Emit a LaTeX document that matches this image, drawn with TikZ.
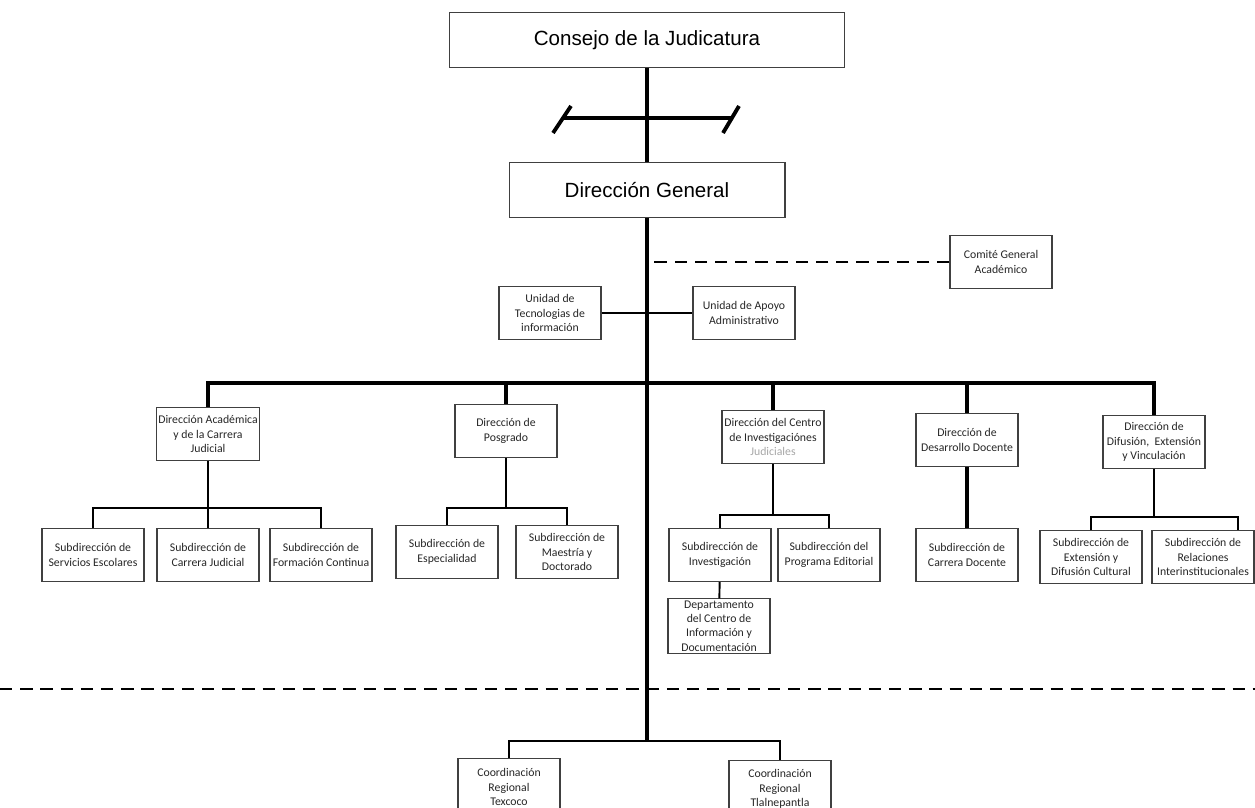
\documentclass[tikz,border=0pt]{standalone}
\usepackage{fontspec}
\setmainfont{Carlito}
\newfontfamily\headfont{Liberation Sans}

\tikzset{
  topbox/.style={draw=black!75, line width=0.6pt, font=\headfont\fontsize{11.7}{14}\selectfont, minimum height=1.1cm},
  unit/.style={draw=black!75, line width=0.6pt, align=center, text=black!85, font=\fontsize{6.7}{8.2}\selectfont, minimum width=2.04cm, minimum height=1.06cm, inner sep=1pt},
  mainline/.style={line width=1.8pt},
  busline/.style={line width=2.1pt},
  subline/.style={line width=1.1pt},
  thinline/.style={line width=0.9pt},
  dashline/.style={line width=1.4pt, dash pattern=on 7pt off 4.5pt}
}

\begin{document}
\begin{tikzpicture}[x=0.02cm, y=-0.02cm]
    \useasboundingbox (0,0) rectangle (1255,808);
    \clip (0,0) rectangle (1255,808);
    \pgfmathsetmacro{\busy}{383}
    \pgfmathsetmacro{\lvlthree}{555}
    % top of the chart
    \node[topbox, minimum width=7.9cm] (consejo) at (647,40) {Consejo de la Judicatura};
    \node[topbox, minimum width=5.52cm] (dirgen) at (647,190) {Dirección General};
    \node[unit] (comite) at (1001,262) {Comité General\\Académico};
    \node[unit] (tecnol) at (550,313) {Unidad de\\Tecnologias de\\información};
    \node[unit] (apoyo) at (744,313) {Unidad de Apoyo\\Administrativo};
    % direcciones
    \node[unit] (dacad) at (208,434) {Dirección Académica\\y de la Carrera\\Judicial};
    \node[unit] (dposg) at (506,431) {Dirección de\\Posgrado};
    \node[unit] (dcentro) at (773,437) {Dirección del Centro\\de Investigaciónes\\{\color{black!35}Judiciales}};
    \node[unit] (ddocente) at (967,440) {Dirección de\\Desarrollo Docente};
    \node[unit] (ddifus) at (1154,442) {Dirección de\\Difusión, \ Extensión\\y Vinculación};
    % subdirecciones
    \node[unit] (sserv) at (93,\lvlthree) {Subdirección de\\Servicios Escolares};
    \node[unit] (scarr) at (208,\lvlthree) {Subdirección de\\Carrera Judicial};
    \node[unit] (sform) at (321,\lvlthree) {Subdirección de\\Formación Continua};
    \node[unit] (sespec) at (447,552) {Subdirección de\\Especialidad};
    \node[unit] (smaest) at (567,552) {Subdirección de\\Maestría y\\Doctorado};
    \node[unit] (sinvest) at (720,\lvlthree) {Subdirección de\\Investigación};
    \node[unit] (seditor) at (829,\lvlthree) {Subdirección del\\Programa Editorial};
    \node[unit] (sdocente) at (967,\lvlthree) {Subdirección de\\Carrera Docente};
    \node[unit] (sexten) at (1091,557) {Subdirección de\\Extensión y\\Difusión Cultural};
    \node[unit] (srelac) at (1203,557) {Subdirección de\\Relaciones\\Interinstitucionales};
    \node[unit] (depto) at (719,626) {Departamento\\del Centro de\\Información y\\Documentación};
    % coordinaciones
    \node[unit, minimum height=1.14cm] (ctex) at (509,787) {Coordinación\\Regional\\Texcoco};
    \node[unit, minimum height=1.14cm] (ctlal) at (780,789) {Coordinación\\Regional\\Tlalnepantla};
    % junctions
    \coordinate (bus) at (647,\busy);
    \coordinate (regbar) at (647,741);
    \coordinate (acbar) at (208,508);
    \coordinate (pobar) at (506,508);
    \coordinate (cebar) at (773,515);
    \coordinate (dibar) at (1154,517);
    \coordinate (westedge) at (0,689);
    \coordinate (eastedge) at (1255,689);
    % main trunk and cut mark
    \draw[mainline] (consejo) -- (dirgen);
    \draw[mainline] (dirgen) -- (regbar);
    \draw[mainline] (563,118) -- (731,118);
    \draw[line width=2.2pt] (553,133) -- (571,106);
    \draw[line width=2.2pt] (723,133) -- (739,106);
    \draw[dashline] (comite.west) -- (comite.west -| dirgen.south);
    \draw[thinline] (tecnol) -- (apoyo);
    % bus to direcciones
    \draw[busline] (dacad.north) |- (bus) -| (ddifus.north);
    \foreach \n in {dposg,dcentro,ddocente}
        \draw[busline] (\n.north) -- (\n.north |- bus);
    % subdirecciones
    \draw[subline] (dacad) -- (acbar);
    \draw[subline] (sserv.north) |- (acbar) -| (sform.north);
    \draw[subline] (scarr) -- (acbar);
    \draw[subline] (dposg) -- (pobar);
    \draw[subline] (sespec.north) |- (pobar) -| (smaest.north);
    \draw[subline] (dcentro) -- (cebar);
    \draw[subline] (sinvest.north) |- (cebar) -| (seditor.north);
    \draw[subline] (sinvest) -- (depto);
    \draw[busline] (ddocente) -- (sdocente);
    \draw[subline] (ddifus) -- (dibar);
    \draw[subline] (sexten.north) |- (dibar) -| ([xshift=0.7cm]srelac.north);
    % regional
    \draw[dashline] (westedge) -- (eastedge);
    \draw[subline] (ctex.north) |- (regbar) -| (ctlal.north);
\end{tikzpicture}
\end{document}
